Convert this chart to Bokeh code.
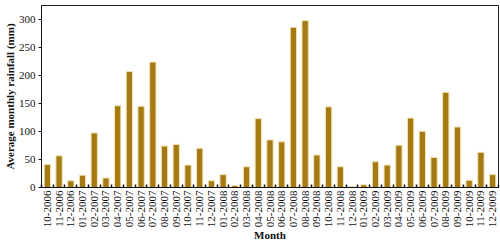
from math import pi
from bokeh.plotting import figure
from bokeh.models import Range1d, FixedTicker, Title
from bokeh.embed import file_html
from bokeh.resources import INLINE

months = ["10-2006", "11-2006", "12-2006", "01-2007", "02-2007", "03-2007",
          "04-2007", "05-2007", "06-2007", "07-2007", "08-2007", "09-2007",
          "10-2007", "11-2007", "12-2007", "01-2008", "02-2008", "03-2008",
          "04-2008", "05-2008", "06-2008", "07-2008", "08-2008", "09-2008",
          "10-2008", "11-2008", "12-2008", "01-2009", "02-2009", "03-2009",
          "04-2009", "05-2009", "06-2009", "07-2009", "08-2009", "09-2009",
          "10-2009", "11-2009", "12-2009"]
rainfall = [41, 56.5, 12, 22, 97.5, 17,
            146, 207, 145, 224, 74, 77,
            40, 70, 12, 23, 3.5, 37,
            123, 85, 81.5, 286, 298, 58,
            144, 37, 1.5, 5, 46, 40,
            75.5, 124, 100.5, 53.5, 170, 108,
            13, 63, 23]
y_ticks = [0, 50, 100, 150, 200, 250, 300]

n = len(months)
centers = [i + 0.5 for i in range(n)]
bounds = [float(i) for i in range(n + 1)]

FONT = "Liberation Serif"

p = figure(frame_width=457, frame_height=182, output_backend="svg",
           toolbar_location=None,
           x_range=Range1d(0, n), y_range=Range1d(0, 325),
           min_border_left=38, min_border_right=5, min_border_top=5,
           min_border_bottom=0)

p.vbar(x=centers, top=rainfall, width=0.54, bottom=0,
       fill_color="#A57A12", line_color="#F3E3B5", line_width=1)

p.xgrid.visible = False
p.ygrid.visible = False
p.outline_line_color = "#222222"
p.outline_line_width = 1

xa = p.xaxis[0]
xa.ticker = FixedTicker(ticks=centers, minor_ticks=bounds)
xa.major_label_overrides = {c: m for c, m in zip(centers, months)}
xa.major_label_orientation = pi / 2
xa.major_tick_in = 0
xa.major_tick_out = 0
xa.minor_tick_in = 3
xa.minor_tick_out = 0
xa.minor_tick_line_color = "#111111"
xa.minor_tick_line_width = 1.5
xa.axis_line_color = "#111111"
xa.major_label_text_font = FONT
xa.major_label_text_font_size = "11px"
xa.major_label_text_color = "#111111"
xa.major_label_standoff = 3

p.add_layout(Title(text="Month", align="center", vertical_align="top",
                   text_font=FONT, text_font_size="11px",
                   text_font_style="bold", text_color="#111111",
                   standoff=-3, offset=0), "below")

ya = p.yaxis[0]
ya.ticker = FixedTicker(ticks=y_ticks, minor_ticks=[])
ya.major_tick_in = 0
ya.major_tick_out = 3
ya.major_tick_line_color = "#111111"
ya.axis_line_color = "#111111"
ya.major_label_text_font = FONT
ya.major_label_text_font_size = "11px"
ya.major_label_text_color = "#111111"
ya.major_label_standoff = 3
ya.axis_label = "Average monthly rainfall (mm)"
ya.axis_label_text_font = FONT
ya.axis_label_text_font_style = "bold"
ya.axis_label_text_font_size = "11px"
ya.axis_label_text_color = "#111111"
ya.axis_label_standoff = 0

open("out.html", "w").write(file_html(p, INLINE))
